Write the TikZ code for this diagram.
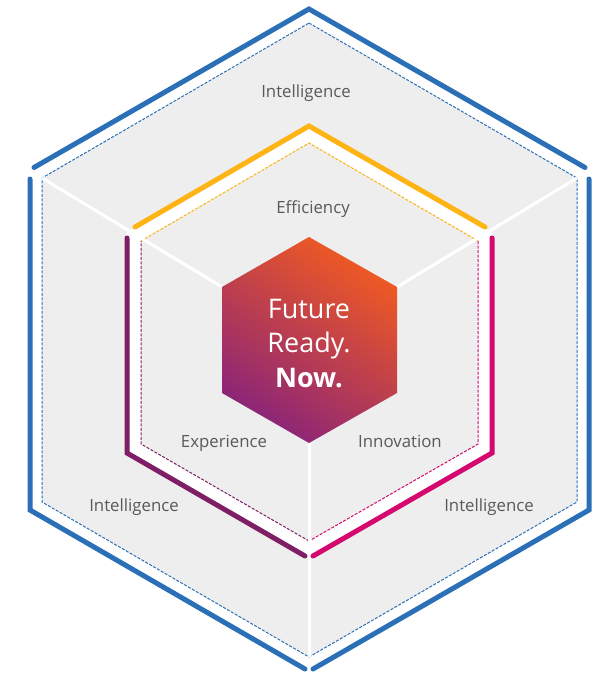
\documentclass[tikz,border=0pt]{standalone}
\usepackage{fontspec}
\setmainfont{Open Sans}
\definecolor{hexblue}{HTML}{2B70B7}
\definecolor{hexyellow}{HTML}{FDB414}
\definecolor{hexpink}{HTML}{D5086F}
\definecolor{hexpurple}{HTML}{7E1F66}
\definecolor{hexgray}{HTML}{EEEEEE}
\definecolor{txtgray}{HTML}{595959}
\definecolor{gradorange}{HTML}{F05A22}
\definecolor{gradpurple}{HTML}{8A2479}
\begin{document}
\begin{tikzpicture}[x=1pt,y=-1pt,
  thickline/.style={line width=5pt,line cap=round,line join=miter},
  dashline/.style={line width=1pt,dash pattern=on 3pt off 1.5pt},
  divider/.style={white,line width=3pt},
  lbl/.style={text=txtgray,font=\fontsize{16.8}{19}\selectfont,anchor=base,inner sep=0pt},
  ctext/.style={text=white,anchor=base,inner sep=0pt,font=\fontsize{27}{30}\selectfont}]
\useasboundingbox (0,0) rectangle (594,673);
% outer dashed hexagon
\coordinate (oT) at (309,23);
\coordinate (oUR) at (577,178);
\coordinate (oLR) at (577,502);
\coordinate (oB) at (309,657);
\coordinate (oLL) at (42,502);
\coordinate (oUL) at (42,178);
% inner thick hexagon
\coordinate (iT) at (309,126);
\coordinate (iUR) at (492,232);
\coordinate (iLR) at (492,453);
\coordinate (iB) at (309,558);
\coordinate (iLL) at (127,453);
\coordinate (iUL) at (127,232);
% inner dashed hexagon
\coordinate (dT) at (309,143);
\coordinate (dUR) at (478,241);
\coordinate (dLR) at (478,444);
\coordinate (dB) at (309,541);
\coordinate (dLL) at (141,444);
\coordinate (dUL) at (141,241);
% centre hexagon
\coordinate (cT) at (309,237);
\coordinate (cUR) at (397,287);
\coordinate (cLR) at (397,393);
\coordinate (cB) at (309,443);
\coordinate (cLL) at (222,393);
\coordinate (cUL) at (222,287);
% fills
\fill[hexgray] (oT) -- (oUR) -- (oLR) -- (oB) -- (oLL) -- (oUL) -- cycle;
\fill[white] (iT) -- (iUR) -- (iLR) -- (iB) -- (iLL) -- (iUL) -- cycle;
\fill[hexgray] (dT) -- (dUR) -- (dLR) -- (dB) -- (dLL) -- (dUL) -- cycle;
% dashed lines
\draw[dashline,hexblue] (oT) -- (oUR) -- (oLR) -- (oB) -- (oLL) -- (oUL) -- cycle;
\draw[dashline,hexyellow] (dUL) -- (dT) -- (dUR);
\draw[dashline,hexpink] (dUR) -- (dLR) -- (dB);
\draw[dashline,hexpurple] (dB) -- (dLL) -- (dUL);
% dividers
\draw[divider] (cUL) -- (oUL);
\draw[divider] (cUR) -- (oUR);
\draw[divider] (cB) -- (oB);
% centre hexagon
\shade[top color=gradorange,bottom color=gradpurple,middle color=gradorange!50!gradpurple,shading angle=-35]
  (cT) -- (cUR) -- (cLR) -- (cB) -- (cLL) -- (cUL) -- cycle;
% thick outlines
\coordinate (bt1) at (34,167.5);
\coordinate (bt2) at (309,9);
\coordinate (bt3) at (585,167.5);
\coordinate (br1) at (589,179);
\coordinate (br2) at (589,510);
\coordinate (br3) at (313,669);
\coordinate (bl1) at (305,669);
\coordinate (bl2) at (30,510);
\coordinate (bl3) at (30,179);
\draw[thickline,hexblue] (bt1) -- (bt2) -- (bt3);
\draw[thickline,hexblue] (br1) -- (br2) -- (br3);
\draw[thickline,hexblue] (bl1) -- (bl2) -- (bl3);
\coordinate (y1) at (135,227);
\coordinate (y3) at (485,227);
\coordinate (p1) at (492,238);
\coordinate (p3) at (313,556);
\coordinate (u1) at (305,556);
\coordinate (u3) at (127,238);
\draw[thickline,hexyellow] (y1) -- (iT) -- (y3);
\draw[thickline,hexpink] (p1) -- (iLR) -- (p3);
\draw[thickline,hexpurple] (u1) -- (iLL) -- (u3);
% labels
\node[lbl] (intTop) at (306,97.5) {Intelligence};
\node[lbl] (eff) at (313,213) {Efficiency};
\node[lbl] (exp) at (224,447) {Experience};
\node[lbl] (inn) at (400,447) {Innovation};
\node[lbl] (intLeft) at (134,511.5) {Intelligence};
\node[lbl] (intRight) at (489,511) {Intelligence};
\node[ctext] (fut) at (309,318) {Future};
\node[ctext] (rdy) at (309,352) {Ready.};
\node[ctext,font=\fontsize{27}{30}\selectfont\bfseries] (now) at (309,387) {Now.};
\end{tikzpicture}
\end{document}
